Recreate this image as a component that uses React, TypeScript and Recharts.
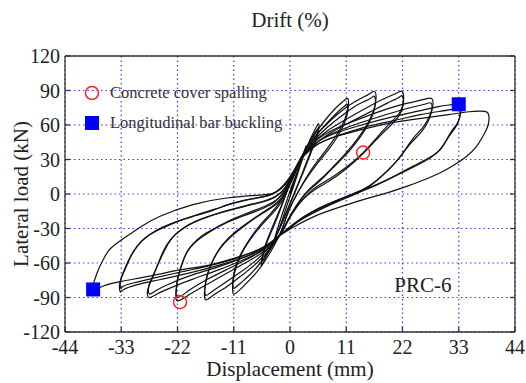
import React from 'react';
import { ComposedChart, Line, Scatter, XAxis, YAxis, CartesianGrid, Legend, ReferenceDot } from 'recharts';

const serif = "'Liberation Serif', 'Times New Roman', serif";

// axis ticks
const dispTicks = [-44, -33, -22, -11, 0, 11, 22, 33, 44];
const driftTicks = [-4, -3, -2, -1, 0, 1, 2, 3, 4];
const loadTicks = [-120, -90, -60, -30, 0, 30, 60, 90, 120];

// hysteresis cycles, [displacement mm, load kN]
const cycle1: [number, number][] = [
  [0, 0], [1, 14], [2, 27], [3, 40], [3.1, 41], [2.6, 33], [1.6, 19], [0.5, 4], [-0.6, -10], [-1.7, -25],
  [-2.7, -37], [-3.1, -41], [-2.7, -34], [-1.7, -20], [-0.5, -4], [0.6, 10], [1.5, 20],
];
const cycle2: [number, number][] = [
  [1.5, 20], [2.8, 35], [4, 48], [5, 57], [5.6, 61], [5.5, 55], [4.5, 42], [3, 25], [1.5, 8], [0, -8],
  [-1.5, -24], [-3, -39], [-4.3, -51], [-5.2, -59], [-5.6, -62], [-5.4, -55], [-4.4, -41], [-3, -26],
  [-1.6, -10], [-0.3, 6], [0.8, 18], [2, 30],
];
const cycle2b: [number, number][] = [
  [2, 30], [3.2, 40], [4.4, 50], [5.3, 56], [5.6, 57], [5.3, 50], [4.2, 37], [2.8, 21], [1.3, 5], [-0.1, -10],
  [-1.6, -26], [-3.1, -40], [-4.4, -51], [-5.3, -57], [-5.5, -58], [-5.2, -50], [-4.2, -37], [-2.8, -22],
  [-1.4, -7], [-0.2, 8], [0.9, 20], [2, 30],
];
const cycle3: [number, number][] = [
  [2, 30], [3.2, 40], [5, 53], [7, 65], [9, 75], [10.5, 81], [11.3, 83], [11.4, 77], [10.8, 66], [9.6, 55],
  [8, 44], [6, 32], [4, 20], [2, 5], [0, -12], [-1, -24], [-2, -35], [-3.5, -48], [-5.5, -62], [-7.5, -73],
  [-9.5, -82], [-11, -87], [-11.2, -80], [-10.8, -68], [-9.8, -55], [-8.3, -43], [-6.5, -32], [-4.5, -22],
  [-2.5, -12], [-1, -2], [0.5, 14], [2, 30],
];
const cycle3b: [number, number][] = [
  [2, 30], [3.5, 40], [5.5, 53], [7.5, 63], [9.5, 72], [10.8, 77], [11.2, 78], [11.3, 72], [10.6, 61],
  [9.3, 50], [7.6, 39], [5.6, 28], [3.6, 16], [1.6, 2], [-0.2, -14], [-1.2, -26], [-2, -35], [-3.8, -48],
  [-5.8, -60], [-7.8, -70], [-9.8, -78], [-11, -82], [-11.2, -76], [-10.7, -64], [-9.6, -52], [-8, -40],
  [-6.2, -29], [-4.2, -19], [-2.3, -9], [-0.9, 1], [0.6, 15], [2, 30],
];
const cycle4: [number, number][] = [
  [2, 30], [4, 45], [7, 60], [10, 72], [13, 81], [15.5, 87], [16.6, 89], [16.8, 82], [16.2, 71], [15, 60],
  [13.2, 48], [11, 36], [8.5, 24], [6, 13], [3.5, 3], [1, -12], [-0.5, -24], [-2, -36], [-4, -48],
  [-6.5, -60], [-9.5, -71], [-12.5, -81], [-15, -88], [-16.5, -92], [-16.7, -84], [-16.2, -71],
  [-15.2, -59], [-13.6, -47], [-11.5, -37], [-9, -28], [-6.5, -20], [-4, -13], [-2, -6], [-0.5, 4],
  [0.8, 16], [2, 30],
];
const cycle4b: [number, number][] = [
  [2, 30], [4.2, 44], [7.3, 58], [10.4, 69], [13.4, 78], [15.7, 83], [16.5, 85], [16.7, 78], [16, 67],
  [14.7, 56], [12.8, 44], [10.5, 32], [8, 21], [5.5, 10], [3, 0], [0.7, -14], [-0.7, -25], [-2, -36],
  [-4.3, -48], [-7, -59], [-10, -69], [-13, -78], [-15.3, -85], [-16.5, -88], [-16.6, -80], [-16, -68],
  [-14.9, -56], [-13.2, -44], [-11, -34], [-8.6, -26], [-6, -18], [-3.6, -11], [-1.8, -4], [-0.4, 6],
  [0.9, 17], [2, 30],
];
const cycle5: [number, number][] = [
  [2, 30], [4, 42], [7, 54], [11, 65], [15, 75], [18.5, 83], [21, 88], [22, 89], [22.2, 81], [21.3, 70],
  [18.9, 58.6], [16.6, 47], [14.3, 36], [11.5, 25], [8, 14], [4.5, 4], [1.5, -10], [-0.5, -24], [-2, -36],
  [-4.5, -48], [-8, -58], [-12, -68], [-16, -78], [-19.5, -87], [-22, -93], [-22.3, -85], [-22, -74],
  [-21.2, -62], [-20.2, -51], [-18.8, -43], [-17, -36.8], [-15, -31], [-12.4, -25], [-10, -20.5],
  [-7.2, -16], [-5, -12], [-3, -7], [-1.2, 2], [0.4, 15], [2, 30],
];
const cycle5b: [number, number][] = [
  [2, 30], [4.3, 41], [7.5, 52], [11.5, 62], [15.5, 71], [19, 79], [21.3, 84], [22, 85], [22.1, 77],
  [21, 66], [18.6, 55], [16.2, 44], [13.8, 33], [11, 22], [7.6, 11], [4, 1], [1.2, -12], [-0.6, -25],
  [-2, -36], [-4.8, -47], [-8.5, -57], [-12.5, -66], [-16.5, -75], [-19.8, -84], [-22, -90], [-22.2, -82],
  [-21.8, -71], [-21, -59], [-19.8, -48], [-18.2, -40], [-16.4, -34], [-14.2, -28.5], [-11.8, -23],
  [-9.4, -18.5], [-6.8, -14], [-4.6, -10], [-2.6, -5], [-1, 3], [0.5, 16], [2, 30],
];
const cycle6: [number, number][] = [
  [2, 30], [5, 46], [9, 57], [14, 66], [19, 74], [23, 79], [26, 82], [27.7, 83], [27.9, 76], [27.2, 67],
  [26, 58], [24, 48], [21.8, 34], [19.5, 22], [17, 12], [14.3, 4], [10, -4], [5, -14], [1.5, -24],
  [-0.5, -31], [-2, -36], [-5, -48], [-9, -57], [-14, -66], [-19, -74], [-23, -81], [-26, -87],
  [-27.6, -90], [-27.8, -83], [-27, -74], [-26, -63], [-24.8, -50], [-23.4, -40], [-21.5, -32],
  [-18.9, -25], [-15.5, -19], [-12.4, -15], [-9, -11], [-5.9, -7.6], [-3, -3], [-1, 5], [0.5, 17], [2, 30],
];
const cycle6b: [number, number][] = [
  [2, 30], [5.3, 45], [9.5, 55], [14.5, 63], [19.5, 70], [23.5, 75], [26.3, 78], [27.6, 79], [27.7, 72],
  [27, 63], [25.7, 54], [23.6, 44], [21.3, 31], [19, 20], [16.5, 10], [13.8, 2], [9.6, -6], [4.8, -16],
  [1.3, -25], [-0.6, -32], [-2, -36], [-5.3, -47], [-9.5, -56], [-14.5, -64], [-19.5, -71], [-23.5, -78],
  [-26.2, -84], [-27.5, -87], [-27.6, -80], [-26.8, -71], [-25.7, -60], [-24.4, -48], [-23, -38],
  [-21, -30], [-18.4, -23.5], [-15, -18], [-12, -14], [-8.6, -10], [-5.6, -6.8], [-2.8, -2], [-0.9, 6],
  [0.6, 18], [2, 30],
];
const cycle7: [number, number][] = [
  [2, 30], [5, 44], [9, 53], [14, 60], [20, 67], [25, 72], [29, 76], [32, 78], [33.3, 78], [33.4, 71],
  [32.8, 62], [31.8, 56], [30.6, 47], [29.3, 38.4], [27, 31], [24, 24], [21, 17], [17.6, 9.6], [13.5, 2],
  [9, -6], [4.5, -15], [1, -25], [-2, -36], [-5, -47], [-9, -55], [-14, -62], [-20, -69], [-26, -75],
  [-30, -79], [-32.5, -83], [-33.2, -85], [-33.3, -78], [-32.6, -68], [-31.5, -57], [-30, -46], [-28, -37],
  [-25.4, -30.6], [-22, -24], [-18.9, -19.4], [-15, -14], [-11, -8], [-7, -4], [-4, -1], [-1.5, 6],
  [0.5, 18], [2, 30],
];
const cycle7b: [number, number][] = [
  [2, 30], [5.3, 43], [9.5, 51], [14.5, 58], [20.5, 64], [25.5, 69], [29.5, 72], [32.3, 74], [33.2, 73.5],
  [33.2, 67], [32.5, 59], [31.4, 52], [30.2, 44], [28.8, 36], [26.5, 29], [23.5, 22], [20.5, 15.5],
  [17.2, 8.4], [13.2, 1], [8.8, -7], [4.3, -16], [0.8, -26], [-2, -36], [-5.2, -46], [-9.3, -54],
  [-14.5, -61], [-20.5, -67], [-26.5, -73], [-30.3, -77], [-32.5, -80], [-33.1, -82], [-33.1, -75],
  [-32.3, -66], [-31.2, -55], [-29.6, -44], [-27.5, -35.5], [-25, -29], [-21.6, -23], [-18.5, -18.5],
  [-14.7, -13.2], [-10.8, -7.5], [-6.8, -3.5], [-3.8, -0.5], [-1.4, 7], [0.6, 19], [2, 30],
];
const cycle8: [number, number][] = [
  [2, 30], [5, 42], [9, 50], [14, 56], [20, 62], [26, 66], [31, 69], [35, 71.5], [37.5, 72], [38.7, 70.4],
  [38.9, 64], [38.5, 57], [37.7, 50], [36.4, 41], [34.5, 32.6], [32, 25], [29.3, 18.3], [26, 12],
  [22.8, 6.6], [19, 1], [15, -4], [10, -11], [5, -19], [1, -28], [-2, -36], [-4, -43], [-7, -50],
  [-11, -56], [-16, -62], [-21.5, -66], [-27, -71], [-33, -76], [-36.5, -80], [-38.5, -83], [-38.3, -76],
  [-37.5, -66], [-36.4, -56], [-35, -47], [-32, -37], [-29, -28], [-25.4, -19.4], [-19, -9.3],
  [-12.4, -3.5], [-6, -1], [-3, 1], [-1, 8], [0.5, 18], [2, 30],
];

const cycles = [
  cycle1, cycle2, cycle2b, cycle3, cycle3b, cycle4, cycle4b, cycle5, cycle5b,
  cycle6, cycle6b, cycle7, cycle7b, cycle8,
];

// damage events
const spallingPoints: [number, number][] = [[14.3, 36], [-21.5, -94]];
const bucklingPoints: [number, number][] = [[33, 78], [-38.5, -83]];

const toXY = (pts: [number, number][]) => pts.map(([x, y]) => ({ x, y }));

const tickStyle = { fontSize: 20, fill: '#222' };
const titleStyle = { fontSize: 21, fill: '#222' };

const OpenCircle = (props: any) => (
  <circle cx={props.cx} cy={props.cy} r={6.5} fill="none" stroke="#ff2222" strokeWidth={1.5} />
);
const FilledSquare = (props: any) => (
  <rect x={props.cx - 7} y={props.cy - 7} width={14} height={14} fill="#0000ff" />
);

const YTitle = (props: any) => {
  const { viewBox } = props;
  const cx = 28;
  const cy = viewBox.y + viewBox.height / 2;
  return (
    <text x={cx} y={cy} transform={`rotate(-90, ${cx}, ${cy})`} textAnchor="middle"
      fontSize={21} fill="#222">Lateral load (kN)</text>
  );
};

const MarkerLegend = () => (
  <div style={{ fontSize: 16.5, color: '#333', lineHeight: '30px' }}>
    <div style={{ display: 'flex', alignItems: 'center', height: 30 }}>
      <svg width={16} height={16}><circle cx={8} cy={8} r={6.5} fill="none" stroke="#ff2222" strokeWidth={1.5} /></svg>
      <span style={{ marginLeft: 10 }}>Concrete cover spalling</span>
    </div>
    <div style={{ display: 'flex', alignItems: 'center', height: 30 }}>
      <svg width={16} height={16}><rect x={1} y={1} width={14} height={14} fill="#0000ff" /></svg>
      <span style={{ marginLeft: 10 }}>Longitudinal bar buckling</span>
    </div>
  </div>
);

export default function App() {
  return (
    <div className="prc6" style={{ position: 'absolute', left: 0, top: 0, background: '#fff', fontFamily: serif }}>
      <style>{`.prc6 text, .prc6 tspan { font-family: ${serif} !important; }`}</style>
      <ComposedChart width={526} height={383} margin={{ top: 26, right: 6, bottom: 21, left: 20 }}>
        <CartesianGrid stroke="#3a3aff" strokeDasharray="1.5 3" strokeWidth={1.2} />
        <XAxis type="number" dataKey="x" domain={[-44, 44]} ticks={dispTicks} allowDataOverflow height={30}
          stroke="#333" strokeWidth={1.3} tickSize={-5} tickMargin={13} tick={tickStyle} interval={0}
          label={{ value: 'Displacement (mm)', position: 'bottom', offset: -1, ...titleStyle }} />
        <XAxis xAxisId="drift" orientation="top" type="number" domain={[-4, 4]} ticks={driftTicks} allowDataOverflow
          height={30} stroke="#333" strokeWidth={1.3} tickSize={-5} tickMargin={14} tick={tickStyle} interval={0}
          label={{ value: 'Drift (%)', position: 'top', offset: -1, ...titleStyle }} />
        <YAxis type="number" dataKey="y" domain={[-120, 120]} ticks={loadTicks} allowDataOverflow width={45}
          stroke="#333" strokeWidth={1.3} tickSize={-5} tickMargin={10} tick={tickStyle} interval={0}
          label={<YTitle />} />
        <YAxis yAxisId="r" orientation="right" type="number" domain={[-120, 120]} ticks={loadTicks} allowDataOverflow
          width={5} stroke="#333" strokeWidth={1.3} tickSize={-5} tickFormatter={() => ''} interval={0} />
        <Legend layout="vertical" align="center" verticalAlign="middle" content={<MarkerLegend />}
          wrapperStyle={{ left: 84, top: 78, width: 220, height: 60 }} />
        {cycles.map((c, i) => (
          <Line key={i} data={toXY(c)} dataKey="y" type="natural" stroke="#111" strokeWidth={1.2}
            dot={false} activeDot={false} isAnimationActive={false} legendType="none" />
        ))}
        <Scatter data={toXY(spallingPoints)} dataKey="y" shape={<OpenCircle />} isAnimationActive={false} legendType="none" />
        <Scatter data={toXY(bucklingPoints)} dataKey="y" shape={<FilledSquare />} isAnimationActive={false} legendType="none" />
        <ReferenceDot x={26} y={-79} r={1} fill="none" stroke="none"
          label={{ value: 'PRC-6', position: 'center', ...titleStyle }} />
      </ComposedChart>
    </div>
  );
}
